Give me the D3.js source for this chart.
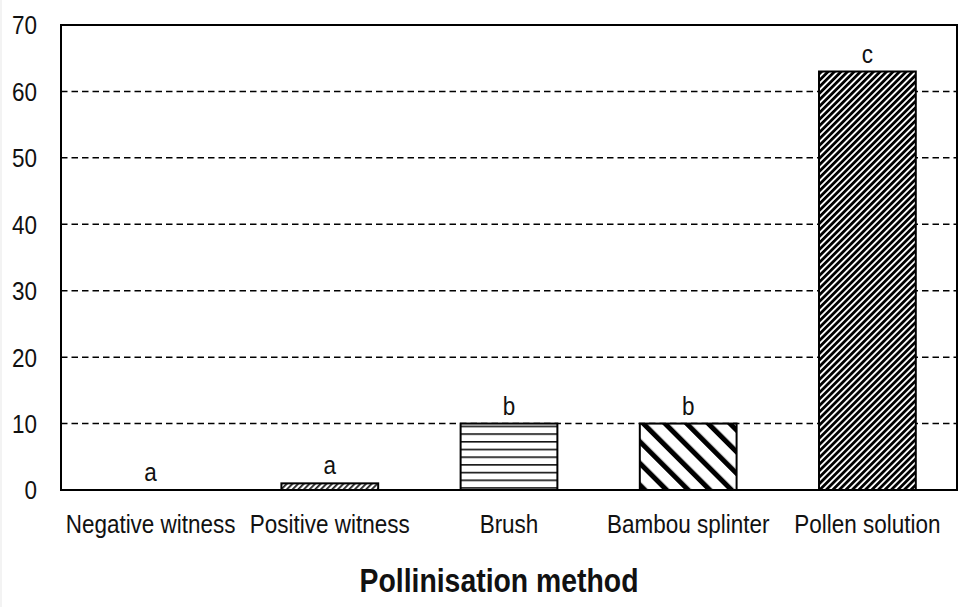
<!DOCTYPE html>
<html><head><meta charset="utf-8">
<script src="https://cdn.jsdelivr.net/npm/d3@7"></script>
<style>
html,body{margin:0;padding:0;background:#fff;}
svg{display:block;}
text{font-family:"Liberation Sans Narrow","Arial Narrow","Liberation Sans",Arial,sans-serif;fill:#111;}
</style></head>
<body>
<svg id="chart" width="960" height="607"></svg>
<script>
const categories = ["Negative witness","Positive witness","Brush","Bambou splinter","Pollen solution"];
const values = [0, 1, 10, 10, 63];
const letters = ["a","a","b","b","c"];
const patterns = ["none","fine","horiz","wide","dense"];
const yTicks = [0,10,20,30,40,50,60,70];
const xTitle = "Pollinisation method";

const svg = d3.select("#chart");
const m = {left:61, right:3, top:25, bottom:117};
const W = 960, H = 607;
const SX = 0.865, FS = 26;
const x = d3.scaleBand().domain(categories).range([m.left, W - m.right]).paddingInner(0.46).paddingOuter(0.23);
const y = d3.scaleLinear().domain([0,70]).range([H - m.bottom, m.top]);

svg.append("rect").attr("x",0).attr("y",0).attr("width",2).attr("height",H).attr("fill","#f3f3f3");

const defs = svg.append("defs");
let p = defs.append("pattern").attr("id","fine").attr("patternUnits","userSpaceOnUse").attr("width",4).attr("height",4).attr("patternTransform","rotate(45)");
p.append("rect").attr("width",4).attr("height",4).attr("fill","#fff");
p.append("rect").attr("width",1.8).attr("height",4).attr("fill","#222");
p = defs.append("pattern").attr("id","horiz").attr("patternUnits","userSpaceOnUse").attr("width",10).attr("height",7.7).attr("y", y(10)+2);
p.append("rect").attr("width",10).attr("height",7.7).attr("fill","#fff");
p.append("rect").attr("y",0).attr("width",10).attr("height",1.6).attr("fill","#111");
p = defs.append("pattern").attr("id","wide").attr("patternUnits","userSpaceOnUse").attr("width",15.3).attr("height",15.3).attr("patternTransform","rotate(-45)");
p.append("rect").attr("width",15.3).attr("height",15.3).attr("fill","#fff");
p.append("rect").attr("width",5).attr("height",15.3).attr("fill","#000");
p = defs.append("pattern").attr("id","dense").attr("patternUnits","userSpaceOnUse").attr("width",4.6).attr("height",4.6).attr("patternTransform","rotate(45)");
p.append("rect").attr("width",4.6).attr("height",4.6).attr("fill","#fff");
p.append("rect").attr("width",2.8).attr("height",4.6).attr("fill","#000");

svg.append("g").selectAll("line").data(yTicks.filter(d => d > 0 && d < 70)).join("line")
  .attr("x1", m.left).attr("x2", W - m.right)
  .attr("y1", d => y(d)).attr("y2", d => y(d))
  .attr("stroke","#000").attr("stroke-width",1.5).attr("stroke-dasharray","6.5,4");

svg.append("g").selectAll("text").data(yTicks).join("text")
  .attr("transform", d => `translate(37,${y(d)}) scale(${SX},1)`).attr("dy","0.36em")
  .attr("text-anchor","end").attr("font-size",FS).text(d => d);

const data = categories.map((c,i) => ({c, v: values[i], l: letters[i], p: patterns[i]}));
svg.append("g").selectAll("rect").data(data.filter(d => d.v > 0)).join("rect")
  .attr("x", d => x(d.c)).attr("width", x.bandwidth())
  .attr("y", d => y(d.v)).attr("height", d => y(0) - y(d.v))
  .attr("fill", d => `url(#${d.p})`).attr("stroke","#000").attr("stroke-width",2);

svg.append("g").selectAll("text").data(data).join("text")
  .attr("transform", d => `translate(${x(d.c) + x.bandwidth()/2},${y(d.v) - 9}) scale(${SX},1)`)
  .attr("text-anchor","middle").attr("font-size",FS).text(d => d.l);

svg.append("rect").attr("x", m.left).attr("y", m.top)
  .attr("width", W - m.right - m.left).attr("height", y(0) - m.top)
  .attr("fill","none").attr("stroke","#000").attr("stroke-width",2);

svg.append("g").selectAll("text").data(categories).join("text")
  .attr("transform", d => `translate(${x(d) + x.bandwidth()/2},533) scale(${SX},1)`)
  .attr("text-anchor","middle").attr("font-size",FS).text(d => d);

svg.append("text").attr("transform", `translate(499,592) scale(0.86,1)`).attr("text-anchor","middle")
  .attr("font-size",33).attr("font-weight","bold").text(xTitle);
</script>
</body></html>
